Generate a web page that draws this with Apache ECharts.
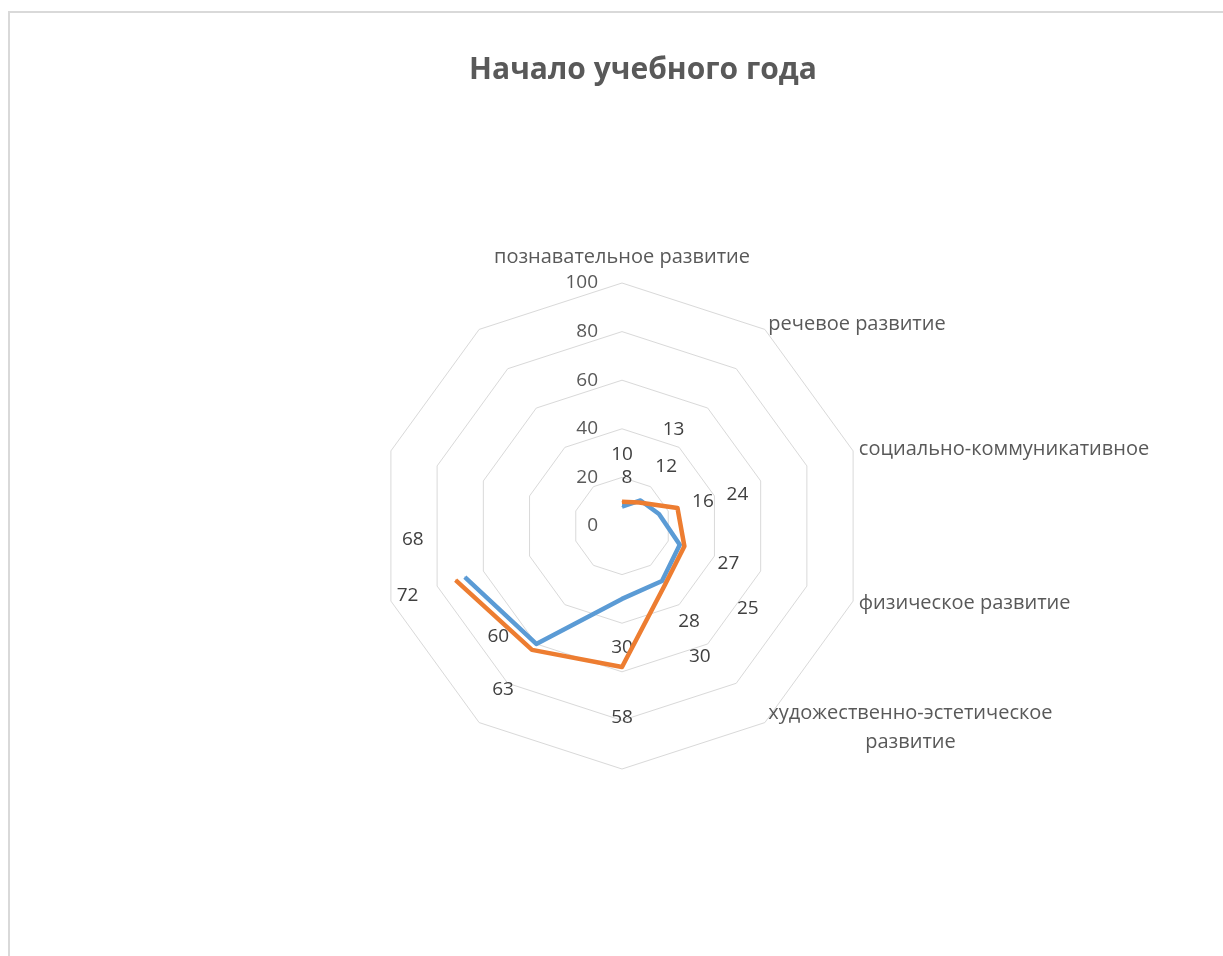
<!DOCTYPE html>
<html>
<head>
<meta charset="utf-8">
<script src="https://cdn.jsdelivr.net/npm/echarts@6/dist/echarts.min.js"></script>
<style>
  html, body { margin: 0; padding: 0; background: #fff; }
  #chart { width: 1223px; height: 956px; }
</style>
</head>
<body>
<div id="chart"></div>
<script>
// категории (оси) по часовой стрелке, последние пять без подписи
const categories = [
  'познавательное развитие',
  'речевое развитие',
  'социально-коммуникативное',
  'физическое развитие',
  'художественно-эстетическое развитие',
  '', '', '', '', ''
];
// ряды данных (пустые оси = null)
const blueValues = [8, 13, 16, 25, 28, 30, 60, 68, null, null];
const orangeValues = [10, 12, 24, 27, 30, 58, 63, 72, null, null];
const radiusTicks = [0, 20, 40, 60, 80, 100];

// смещения подписей значений (как в исходнике)
const blueLabelOffsets = [[5, -29], [33, -71], [44, -12], [68, 64], [27, 41], [0, 49], [-38, -7], [-52, -37]];
const orangeLabelOffsets = [[0, -47], [27, -36], [60, -13], [44, 17], [35, 72], [0, 51], [-29, 40], [-48, 16]];

const font = '"Open Sans", sans-serif';
const center = [622, 526];
const radius = 243;

function buildData(values, offsets) {
  return values.map(function (v, i) {
    if (v === null) return '-';
    return { value: v, label: { offset: offsets[i] } };
  });
}

// радар рисует оси против часовой стрелки, поэтому порядок разворачиваем
const radarOrder = [categories[0]].concat(categories.slice(1).reverse());

let mycharts = echarts.init(document.getElementById('chart'));
mycharts.setOption({
  backgroundColor: '#fff',
  animation: false,
  title: {
    text: 'Начало учебного года',
    left: 638,
    top: 50,
    textAlign: 'center',
    textStyle: { color: '#595959', fontSize: 30, fontWeight: 'bold', fontFamily: font }
  },
  graphic: [{
    type: 'rect',
    shape: { x: 9, y: 12, width: 1300, height: 1000 },
    style: { fill: 'none', stroke: '#d9d9d9', lineWidth: 2 },
    silent: true
  }],
  radar: {
    center: center,
    radius: radius,
    startAngle: 90,
    splitNumber: 5,
    shape: 'polygon',
    indicator: radarOrder.map(function (c) { return { name: c, max: 100, min: 0 }; }),
    axisName: {
      color: '#595959',
      fontSize: 20,
      fontFamily: font,
      verticalAlign: 'middle',
      formatter: function (name) {
        if (name === categories[0]) return name + '\n\n';
        if (name === categories[4]) {
          const k = name.lastIndexOf(' ');
          return '{c|' + name.slice(0, k) + '}\n{c|' + name.slice(k + 1) + '}';
        }
        return name;
      },
      rich: {
        c: { align: 'center', color: '#595959', fontSize: 20, fontFamily: font, lineHeight: 29 }
      }
    },
    nameGap: 6,
    axisLine: { show: false },
    axisTick: { show: false },
    axisLabel: { show: false },
    splitArea: { show: false },
    splitLine: { lineStyle: { color: '#d9d9d9', width: 1 } }
  },
  polar: { center: center, radius: radius },
  angleAxis: {
    type: 'category',
    data: categories,
    startAngle: 90,
    clockwise: true,
    boundaryGap: false,
    axisLine: { show: false },
    axisTick: { show: false },
    axisLabel: { show: false },
    splitLine: { show: false }
  },
  radiusAxis: {
    type: 'value',
    min: radiusTicks[0],
    max: radiusTicks[radiusTicks.length - 1],
    interval: radiusTicks[1] - radiusTicks[0],
    axisLine: { show: false },
    axisTick: { show: false },
    splitLine: { show: false },
    axisLabel: {
      show: true,
      color: '#595959',
      fontSize: 19,
      fontFamily: font,
      align: 'right',
      margin: 24
    }
  },
  series: [
    {
      name: 'ряд 1',
      type: 'line',
      coordinateSystem: 'polar',
      data: buildData(blueValues, blueLabelOffsets),
      connectNulls: false,
      symbol: 'circle',
      symbolSize: 1,
      showSymbol: true,
      lineStyle: { color: '#5B9BD5', width: 4.5, join: 'round' },
      itemStyle: { color: '#5B9BD5' },
      label: { show: true, position: 'inside', color: '#404040', fontSize: 19, fontFamily: font },
      z: 3
    },
    {
      name: 'ряд 2',
      type: 'line',
      coordinateSystem: 'polar',
      data: buildData(orangeValues, orangeLabelOffsets),
      connectNulls: false,
      symbol: 'circle',
      symbolSize: 1,
      showSymbol: true,
      lineStyle: { color: '#ED7D31', width: 4.5, join: 'round' },
      itemStyle: { color: '#ED7D31' },
      label: { show: true, position: 'inside', color: '#404040', fontSize: 19, fontFamily: font },
      z: 4
    }
  ]
});
</script>
</body>
</html>
